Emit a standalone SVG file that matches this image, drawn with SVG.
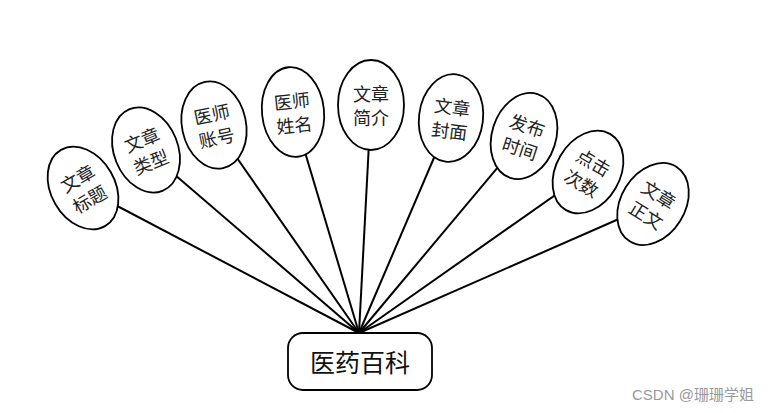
<svg xmlns="http://www.w3.org/2000/svg" width="784" height="413" viewBox="0 0 784 413">
<defs>
<style>
.conn line{stroke:#000;stroke-width:2}
.attr ellipse{fill:#fff;stroke:#000;stroke-width:1.8}
.attr text{font-family:"Noto Sans CJK SC","Noto Sans CJK JP",sans-serif;font-size:18px;fill:#222;text-anchor:middle;dominant-baseline:central}
.hub rect{fill:#fff;stroke:#000;stroke-width:1.8}
.hub text{font-family:"Noto Sans CJK SC",sans-serif;font-size:25px;fill:#111;text-anchor:middle;dominant-baseline:central}
.wm{font-family:"Liberation Sans","Noto Sans CJK SC",sans-serif;font-size:15px;fill:#999}
</style>
</defs>
<rect width="784" height="413" fill="#fff"/>
<g id="connectors" class="conn">
<line x1="83" y1="188" x2="359" y2="333"/>
<line x1="146" y1="150" x2="359" y2="333"/>
<line x1="214" y1="125" x2="359" y2="333"/>
<line x1="293" y1="112" x2="359" y2="333"/>
<line x1="371" y1="105" x2="359" y2="333"/>
<line x1="451" y1="118" x2="359" y2="333"/>
<line x1="524" y1="136" x2="359" y2="333"/>
<line x1="588" y1="172" x2="359" y2="333"/>
<line x1="653" y1="204" x2="359" y2="333"/>
</g>
<g id="n1" class="attr" transform="translate(83,188) rotate(-30)"><ellipse rx="32" ry="44"/><text y="-12">文章</text><text y="12">标题</text></g>
<g id="n2" class="attr" transform="translate(146,150) rotate(-22)"><ellipse rx="32" ry="44"/><text y="-12">文章</text><text y="12">类型</text></g>
<g id="n3" class="attr" transform="translate(214,125) rotate(-12)"><ellipse rx="32" ry="44"/><text y="-12">医师</text><text y="12">账号</text></g>
<g id="n4" class="attr" transform="translate(293,112) rotate(-6)"><ellipse rx="31" ry="45"/><text y="-12">医师</text><text y="12">姓名</text></g>
<g id="n5" class="attr" transform="translate(371,105) rotate(0)"><ellipse rx="33" ry="45"/><text y="-12">文章</text><text y="12">简介</text></g>
<g id="n6" class="attr" transform="translate(451,118) rotate(7)"><ellipse rx="32" ry="44"/><text y="-12">文章</text><text y="12">封面</text></g>
<g id="n7" class="attr" transform="translate(524,136) rotate(18)"><ellipse rx="32" ry="44"/><text y="-12">发布</text><text y="12">时间</text></g>
<g id="n8" class="attr" transform="translate(588,172) rotate(30)"><ellipse rx="32" ry="44"/><text y="-12">点击</text><text y="12">次数</text></g>
<g id="n9" class="attr" transform="translate(653,204) rotate(32)"><ellipse rx="32" ry="44"/><text y="-12">文章</text><text y="12">正文</text></g>
<g id="hub" class="hub"><rect x="288" y="333" width="144" height="57" rx="15" ry="15"/><text x="360" y="361">医药百科</text></g>
<text class="wm" x="632" y="400">CSDN @珊珊学姐</text>
</svg>
